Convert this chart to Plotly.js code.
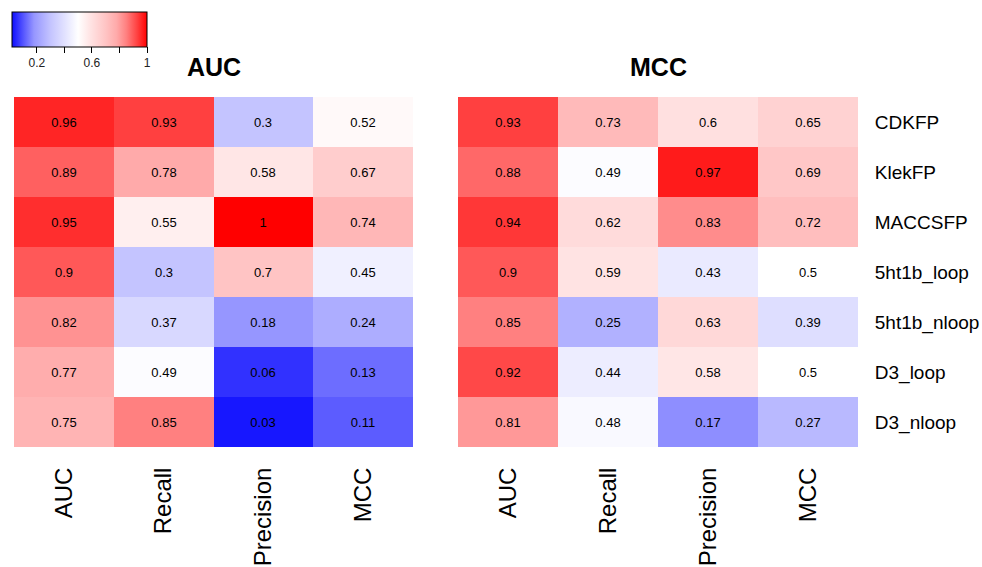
<!DOCTYPE html>
<html>
<head>
<meta charset="utf-8">
<script src="https://cdn.plot.ly/plotly-3.0.1.min.js"></script>
<style>
html,body{margin:0;padding:0;background:#fff;}
#chart{width:982px;height:567px;}
</style>
</head>
<body>
<div id="chart"></div>
<script>
// ---- data ----
var rowLabels = ["CDKFP", "KlekFP", "MACCSFP", "5ht1b_loop", "5ht1b_nloop", "D3_loop", "D3_nloop"];
var colLabels = ["AUC", "Recall", "Precision", "MCC"];
var aucValues = [
  [0.96, 0.93, 0.3, 0.52],
  [0.89, 0.78, 0.58, 0.67],
  [0.95, 0.55, 1, 0.74],
  [0.9, 0.3, 0.7, 0.45],
  [0.82, 0.37, 0.18, 0.24],
  [0.77, 0.49, 0.06, 0.13],
  [0.75, 0.85, 0.03, 0.11]
];
var mccValues = [
  [0.93, 0.73, 0.6, 0.65],
  [0.88, 0.49, 0.97, 0.69],
  [0.94, 0.62, 0.83, 0.72],
  [0.9, 0.59, 0.43, 0.5],
  [0.85, 0.25, 0.63, 0.39],
  [0.92, 0.44, 0.58, 0.5],
  [0.81, 0.48, 0.17, 0.27]
];
var panelTitles = ["AUC", "MCC"];
var legendTicks = [0.2, 0.4, 0.6, 0.8, 1];
var legendTickText = ["0.2", "", "0.6", "", "1"];

var cmin = 0.02, cmax = 1;
var scaleValues = [0.02, 0.11, 0.18, 0.3, 0.4, 0.5, 0.58, 0.7, 0.78, 0.85, 0.93, 1];
var scaleColors = [
  "rgb(14,14,255)", "rgb(92,92,255)", "rgb(150,150,255)", "rgb(196,196,255)",
  "rgb(225,225,255)", "rgb(255,255,255)", "rgb(255,230,230)", "rgb(255,196,196)",
  "rgb(255,170,170)", "rgb(255,128,128)", "rgb(255,64,64)", "rgb(255,0,0)"
];
var colorscale = scaleValues.map(function (v, i) {
  return [(v - cmin) / (cmax - cmin), scaleColors[i]];
});

function textOf(m) { return m.map(function (r) { return r.map(function (v) { return String(v); }); }); }

var FONT = "Liberation Sans, Arial, Helvetica, sans-serif";
var W = 982, H = 567;

var traces = [
  {
    type: "heatmap", x: colLabels, y: rowLabels, z: aucValues,
    text: textOf(aucValues), texttemplate: "%{text}",
    textfont: {family: FONT, size: 13, color: "#000"},
    coloraxis: "coloraxis", xaxis: "x", yaxis: "y",
    hoverinfo: "x+y+z"
  },
  {
    type: "heatmap", x: colLabels, y: rowLabels, z: mccValues,
    text: textOf(mccValues), texttemplate: "%{text}",
    textfont: {family: FONT, size: 13, color: "#000"},
    coloraxis: "coloraxis", xaxis: "x2", yaxis: "y2",
    hoverinfo: "x+y+z"
  }
];

var yDom = [1 - 447 / H, 1 - 97 / H];
var xAxisCommon = {
  tickangle: -90, ticks: "outside", ticklen: 10, tickcolor: "rgba(0,0,0,0)",
  tickfont: {family: FONT, size: 24, color: "#000"},
  showgrid: false, zeroline: false, showline: false, automargin: false, fixedrange: true
};
var layout = {
  width: W, height: H,
  margin: {l: 0, r: 0, t: 0, b: 0, pad: 0, autoexpand: false},
  paper_bgcolor: "#fff", plot_bgcolor: "#fff",
  font: {family: FONT, color: "#000"},
  showlegend: false,
  xaxis: Object.assign({domain: [14 / W, 413 / W], anchor: "y"}, xAxisCommon),
  xaxis2: Object.assign({domain: [458 / W, 858 / W], anchor: "y2"}, xAxisCommon),
  yaxis: {domain: yDom, anchor: "x", autorange: "reversed", showticklabels: false, ticks: "",
          showgrid: false, zeroline: false, automargin: false, fixedrange: true},
  yaxis2: {domain: yDom, anchor: "x2", side: "right", autorange: "reversed",
           ticks: "outside", ticklen: 12, tickcolor: "rgba(0,0,0,0)",
           tickfont: {family: FONT, size: 19, color: "#000"},
           showgrid: false, zeroline: false, automargin: false, fixedrange: true},
  coloraxis: {
    colorscale: colorscale, cmin: cmin, cmax: cmax,
    colorbar: {
      orientation: "h", xref: "container", yref: "container",
      x: 12 / W, xanchor: "left", y: 1 - 12 / H, yanchor: "top",
      len: 135, lenmode: "pixels", thickness: 35, thicknessmode: "pixels",
      xpad: 0, ypad: 0,
      outlinewidth: 1, outlinecolor: "#000",
      tickmode: "array", tickvals: legendTicks, ticktext: legendTickText,
      ticks: "outside", ticklen: 6, tickwidth: 1, tickcolor: "#000",
      tickfont: {family: FONT, size: 12, color: "#222"}
    }
  },
  annotations: [
    {text: "<b>" + panelTitles[0] + "</b>", xref: "paper", yref: "paper",
     x: (14 + 413) / 2 / W, y: 1 - 67 / H, xanchor: "center", yanchor: "middle",
     showarrow: false, font: {family: FONT, size: 25, color: "#000"}},
    {text: "<b>" + panelTitles[1] + "</b>", xref: "paper", yref: "paper",
     x: (458 + 858) / 2 / W, y: 1 - 67 / H, xanchor: "center", yanchor: "middle",
     showarrow: false, font: {family: FONT, size: 25, color: "#000"}}
  ]
};

Plotly.newPlot("chart", traces, layout, {displayModeBar: false, responsive: false});
</script>
</body>
</html>
